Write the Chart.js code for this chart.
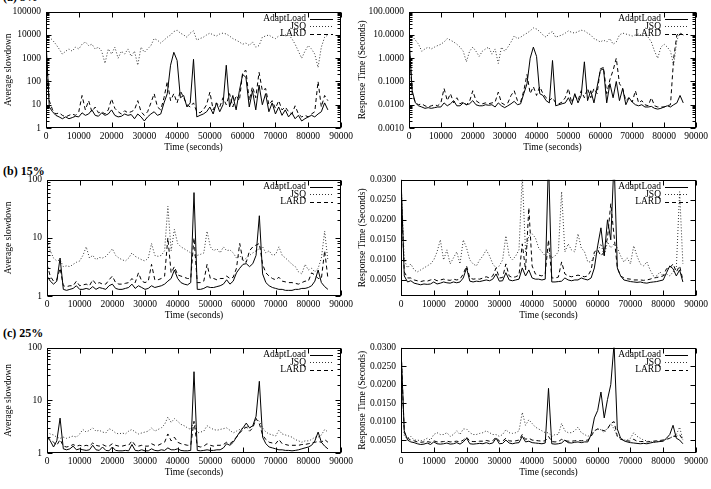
<!DOCTYPE html>
<html>
<head>
<meta charset="utf-8">
<script src="https://cdn.jsdelivr.net/npm/chart.js@4.4.0/dist/chart.umd.min.js"></script>
<style>
  body { margin: 0; background: #fff; width: 711px; height: 489px; position: relative; overflow: hidden; font-family: "Liberation Serif", serif; }
  canvas { position: absolute; }
  .row { position: absolute; left: 3px; font-weight: bold; font-size: 12px; line-height: 12px; color: #000; }
</style>
</head>
<body>
<div class="row" style="top:-9px">(a) 5%</div>
<div class="row" style="top:165px">(b) 15%</div>
<div class="row" style="top:327px">(c) 25%</div>
<canvas id="c1" width="360" height="167" style="left:0px;top:1px"></canvas>
<canvas id="c2" width="356" height="167" style="left:355px;top:1px"></canvas>
<canvas id="c3" width="360" height="167" style="left:0px;top:169px"></canvas>
<canvas id="c4" width="356" height="167" style="left:355px;top:169px"></canvas>
<canvas id="c5" width="360" height="156" style="left:0px;top:337px"></canvas>
<canvas id="c6" width="356" height="156" style="left:355px;top:337px"></canvas>
<script>
// time axis (seconds), one sample per 1000 s
const times = [0, 1000, 2000, 3000, 4000, 5000, 6000, 7000, 8000, 9000,
  10000, 11000, 12000, 13000, 14000, 15000, 16000, 17000, 18000, 19000,
  20000, 21000, 22000, 23000, 24000, 25000, 26000, 27000, 28000, 29000,
  30000, 31000, 32000, 33000, 34000, 35000, 36000, 37000, 38000, 39000,
  40000, 41000, 42000, 43000, 44000, 45000, 46000, 47000, 48000, 49000,
  50000, 51000, 52000, 53000, 54000, 55000, 56000, 57000, 58000, 59000,
  60000, 61000, 62000, 63000, 64000, 65000, 66000, 67000, 68000, 69000,
  70000, 71000, 72000, 73000, 74000, 75000, 76000, 77000, 78000, 79000,
  80000, 81000, 82000, 83000, 84000, 85000, 86000]
const seriesNames = ['AdaptLoad', 'JSQ', 'LARD']

const xTicks = [0, 10000, 20000, 30000, 40000, 50000, 60000, 70000, 80000, 90000]
const slowTicksA = [1, 10, 100, 1000, 10000, 100000]
const respTicksA = [0.001, 0.01, 0.1, 1, 10, 100]
const slowTicks = [1, 10, 100]
const respTicks = [0.005, 0.01, 0.015, 0.02, 0.025, 0.03]

// (a) average slowdown
const adaptA1 = [6000, 8, 5, 3.5, 3, 2.5, 3, 2.5, 2.8, 3.2,
  3, 4.5, 3.5, 4, 6, 3.5, 3.2, 4.5, 3.5, 4,
  6, 3.5, 3, 3.2, 4, 3.5, 3.8, 2.5, 4, 3,
  2, 3, 4, 5, 3.5, 4, 12, 30, 500, 1800,
  800, 20, 25, 8, 12, 900, 3, 3.5, 4, 5,
  8, 4, 12, 5, 10, 500, 8, 25, 6, 40,
  200, 150, 8, 40, 6, 70, 10, 30, 5, 12,
  4, 8, 3.5, 6, 3, 4.5, 2.5, 3.5, 2, 2.5,
  3, 3.5, 3, 4, 5, 12, 6]
const jsqA1 = [9000, 8000, 6000, 4000, 2500, 1500, 2000, 2500, 2000, 3000,
  2500, 4000, 5000, 3500, 4000, 2500, 3000, 2000, 600, 2500,
  1500, 3000, 1000, 2000, 1500, 2500, 1200, 2000, 500, 3000,
  1800, 2500, 3500, 7000, 6000, 4500, 6000, 8000, 10000, 14000,
  16000, 12000, 10000, 8000, 12000, 15000, 6000, 7000, 8000, 10000,
  12000, 10000, 9000, 11000, 12000, 11000, 9000, 7000, 6000, 5000,
  4000, 4500, 3500, 5000, 3000, 3500, 8000, 9000, 10000, 8000,
  7000, 9000, 10000, 9000, 10000, 7000, 4000, 2000, 1000, 2000,
  3500, 2500, 1500, 400, 3000, 8000, 10000]
const lardA1 = [2000, 15, 6, 4, 4.5, 3.5, 3, 3.5, 4, 3.5,
  5, 25, 6, 15, 5, 8, 4.5, 5, 4, 6,
  18, 7, 5, 4, 5.5, 4.5, 5, 6, 15, 5,
  3.5, 5, 12, 30, 8, 6, 20, 100, 15, 30,
  12, 40, 20, 10, 8, 12, 5, 4.5, 6, 10,
  35, 6, 12, 8, 20, 10, 30, 8, 25, 15,
  250, 300, 15, 60, 20, 250, 40, 50, 10, 15,
  7, 15, 6, 8, 5, 4, 9, 4, 3, 3.5,
  3, 4, 5, 100, 8, 25, 15]

// (a) response time
const adaptA2 = [8, 0.04, 0.012, 0.009, 0.008, 0.007, 0.0075, 0.007, 0.0075, 0.008,
  0.008, 0.012, 0.009, 0.011, 0.015, 0.009, 0.009, 0.012, 0.01, 0.011,
  0.015, 0.01, 0.009, 0.009, 0.01, 0.0095, 0.01, 0.008, 0.012, 0.009,
  0.0075, 0.009, 0.011, 0.014, 0.01, 0.011, 0.03, 0.08, 1.0, 3.0,
  1.2, 0.03, 0.025, 0.015, 0.012, 0.8, 0.009, 0.01, 0.011, 0.012,
  0.02, 0.01, 0.03, 0.012, 0.025, 0.7, 0.015, 0.04, 0.012, 0.06,
  0.3, 0.35, 0.012, 0.08, 0.02, 0.1, 0.015, 0.05, 0.01, 0.02,
  0.013, 0.01, 0.009, 0.01, 0.008, 0.008, 0.0085, 0.007, 0.0065, 0.007,
  0.008, 0.009, 0.008, 0.01, 0.012, 0.025, 0.012]
const jsqA2 = [10, 9, 6, 4, 2, 2.5, 3, 2.5, 3, 3.5,
  4, 5, 7, 6, 5, 4, 3, 2, 0.7, 2,
  3, 2, 1.2, 2, 2.5, 3, 1.5, 2.5, 0.6, 3,
  2, 3, 5, 9, 7, 8, 10, 12, 15, 20,
  18, 14, 10, 8, 12, 14, 8, 9, 10, 12,
  15, 13, 12, 14, 16, 15, 12, 10, 7, 6,
  5, 6, 5, 7, 4, 5, 10, 12, 11, 10,
  9, 10, 11, 9, 10, 8, 5, 2, 1, 3,
  4, 3, 2, 0.5, 6, 12, 10]
const lardA2 = [5, 0.03, 0.012, 0.01, 0.011, 0.009, 0.008, 0.009, 0.01, 0.009,
  0.012, 0.05, 0.015, 0.03, 0.012, 0.02, 0.011, 0.013, 0.01, 0.014,
  0.04, 0.015, 0.012, 0.011, 0.012, 0.011, 0.012, 0.013, 0.035, 0.012,
  0.01, 0.012, 0.025, 0.04, 0.015, 0.013, 0.04, 0.2, 0.03, 0.06,
  0.025, 0.06, 0.03, 0.02, 0.015, 0.02, 0.012, 0.011, 0.013, 0.02,
  0.05, 0.012, 0.025, 0.015, 0.04, 0.02, 0.05, 0.02, 0.05, 0.03,
  0.35, 0.4, 0.03, 0.12, 0.3, 1.0, 0.08, 0.05, 0.015, 0.02,
  0.013, 0.04, 0.012, 0.015, 0.01, 0.009, 0.02, 0.009, 0.008, 0.008,
  0.008, 0.009, 0.01, 1.0, 10, 12, 10]

// (b) 15% average slowdown
const adaptB1 = [2.2, 1.8, 1.6, 1.8, 4.5, 1.3, 1.25, 1.3, 1.35, 1.5,
  1.3, 1.3, 1.35, 1.3, 1.45, 1.3, 1.4, 1.35, 1.3, 1.5,
  1.6, 1.35, 1.3, 1.3, 1.35, 1.4, 1.6, 1.35, 1.5, 1.4,
  1.3, 1.35, 1.5, 1.4, 1.45, 1.5, 1.6, 1.8, 2.0, 2.8,
  2.0, 1.7, 1.6, 1.55, 1.7, 60, 1.3, 1.3, 1.35, 1.45,
  1.4, 1.4, 1.45, 1.5, 1.6, 1.9, 1.6, 1.8, 2.5, 3.0,
  3.5, 3.6, 3.2, 3.6, 5.0, 24, 2.4, 1.7, 1.5, 1.4,
  1.35, 1.3, 1.3, 1.25, 1.25, 1.25, 1.3, 1.3, 1.35, 1.35,
  1.4, 1.5, 1.8, 2.8, 1.7, 1.45, 1.3]
const jsqB1 = [10, 6, 4.5, 4, 4.2, 3.2, 3.3, 3.2, 3.5, 3.8,
  4, 5, 7, 4.5, 5, 4.2, 4.6, 4.5, 4.8, 5.5,
  6.5, 5, 4.5, 4.2, 4, 4.5, 5.5, 4.8, 4.5, 4.2,
  4, 4.5, 8, 5, 4.8, 5, 6, 35, 6, 14,
  8, 7, 6.5, 6, 5.5, 5, 5, 5.2, 5.5, 13,
  7, 6, 6.5, 5.5, 7, 6, 6.2, 5.5, 4.5, 5,
  4, 4.5, 5, 5.5, 6, 6.5, 7, 5.5, 6, 5,
  5.2, 7, 5, 4.5, 4, 3.5, 3.2, 2.6, 2.4, 3.5,
  2.8, 3, 2.6, 3, 4.5, 13, 4]
const lardB1 = [3.5, 2.2, 1.8, 1.9, 3, 1.5, 1.45, 1.5, 1.5, 1.8,
  1.5, 1.55, 1.6, 1.5, 1.9, 1.6, 1.7, 1.6, 1.6, 1.9,
  2.2, 1.7, 1.6, 1.6, 1.65, 1.7, 2.0, 1.7, 2.5, 1.8,
  1.7, 1.8, 3.5, 1.9, 1.9, 2.0, 2.2, 10, 2.5, 3.2,
  2.3, 2.2, 2.1, 2.0, 2.0, 10, 1.7, 1.7, 1.8, 3.5,
  2.0, 2.0, 1.9, 2.0, 2.0, 2.2, 2.0, 2.1, 3.0, 8,
  4.0, 3.8, 6, 7, 7.5, 8, 3.5, 2.5, 2.2, 2.0,
  1.9, 2.1, 1.8, 1.75, 1.7, 1.7, 1.65, 1.6, 1.7, 1.8,
  1.8, 2.5, 2.3, 2.0, 2.0, 6, 2.0]

// (b) 15% response time
const adaptB2 = [0.031, 0.006, 0.0045, 0.0048, 0.0042, 0.004, 0.0038, 0.004, 0.0039, 0.004,
  0.0045, 0.004, 0.0042, 0.0045, 0.0043, 0.0042, 0.0045, 0.0043, 0.0045, 0.0055,
  0.008, 0.0047, 0.0045, 0.0047, 0.0046, 0.0048, 0.005, 0.0048, 0.0052, 0.0065,
  0.0047, 0.0048, 0.0068, 0.005, 0.0048, 0.005, 0.0052, 0.008, 0.006, 0.0075,
  0.0055, 0.0052, 0.0052, 0.005, 0.0052, 0.035, 0.0045, 0.0045, 0.0046, 0.0047,
  0.0055, 0.005, 0.0048, 0.005, 0.005, 0.0055, 0.0052, 0.005, 0.0055, 0.008,
  0.0135, 0.018, 0.011, 0.02, 0.015, 0.035, 0.008, 0.006, 0.005, 0.0048,
  0.0046, 0.0045, 0.0044, 0.0045, 0.0043, 0.0042, 0.0044, 0.0045, 0.0046, 0.0048,
  0.005, 0.0068, 0.0085, 0.0078, 0.006, 0.0075, 0.0045]
const jsqB2 = [0.03, 0.01, 0.008, 0.009, 0.0075, 0.007, 0.0075, 0.008, 0.0085, 0.009,
  0.01, 0.012, 0.015, 0.01, 0.0125, 0.009, 0.0105, 0.012, 0.009, 0.015,
  0.013, 0.01, 0.009, 0.0085, 0.01, 0.011, 0.0125, 0.011, 0.009, 0.008,
  0.0085, 0.01, 0.016, 0.011, 0.01, 0.011, 0.0125, 0.031, 0.012, 0.016,
  0.0165, 0.0155, 0.013, 0.012, 0.011, 0.012, 0.0105, 0.011, 0.012, 0.027,
  0.012, 0.014, 0.0125, 0.012, 0.0165, 0.013, 0.012, 0.0095, 0.0095, 0.011,
  0.012, 0.014, 0.011, 0.0145, 0.013, 0.014, 0.013, 0.011, 0.0095, 0.0105,
  0.009, 0.0135, 0.011, 0.009, 0.0085, 0.0095, 0.0075, 0.006, 0.006, 0.007,
  0.006, 0.0065, 0.006, 0.007, 0.008, 0.027, 0.009]
const lardB2 = [0.028, 0.007, 0.0055, 0.0055, 0.005, 0.0048, 0.0046, 0.0048, 0.0047, 0.005,
  0.0052, 0.0048, 0.005, 0.0052, 0.005, 0.0049, 0.0052, 0.005, 0.0052, 0.0065,
  0.0085, 0.0055, 0.0052, 0.0053, 0.0052, 0.0055, 0.0058, 0.0055, 0.006, 0.008,
  0.0055, 0.0056, 0.009, 0.006, 0.0056, 0.0058, 0.0062, 0.014, 0.0075, 0.023,
  0.0085, 0.0065, 0.0062, 0.006, 0.0065, 0.015, 0.0055, 0.0055, 0.0057, 0.0095,
  0.0065, 0.006, 0.0058, 0.006, 0.0062, 0.006, 0.0058, 0.006, 0.0075, 0.012,
  0.0125, 0.011, 0.012, 0.0155, 0.024, 0.016, 0.008, 0.006, 0.0055, 0.0053,
  0.0052, 0.005, 0.005, 0.005, 0.0049, 0.005, 0.0052, 0.0055, 0.0056, 0.0058,
  0.006, 0.0078, 0.008, 0.009, 0.007, 0.0085, 0.005]

// (c) 25% average slowdown
const adaptC1 = [2.0, 1.7, 1.3, 1.7, 4.6, 1.2, 1.15, 1.2, 1.35, 1.15,
  1.2, 1.15, 1.12, 1.15, 1.4, 1.15, 1.12, 1.3, 1.12, 1.1,
  1.3, 1.12, 1.1, 1.1, 1.12, 1.1, 1.45, 1.12, 1.1, 1.15,
  1.1, 1.1, 1.2, 1.12, 1.1, 1.15, 1.12, 1.25, 1.15, 1.15,
  1.2, 1.12, 1.1, 1.1, 1.12, 35, 1.12, 1.1, 1.12, 1.15,
  1.12, 1.12, 1.15, 1.15, 1.25, 1.5, 1.4, 1.6, 2.0, 2.5,
  3.0, 3.7, 3.0, 3.3, 5.0, 23, 2.0, 1.5, 1.3, 1.25,
  1.2, 1.15, 1.15, 1.12, 1.12, 1.1, 1.12, 1.15, 1.2, 1.25,
  1.3, 1.4, 1.7, 2.5, 1.6, 1.35, 1.2]
const jsqC1 = [2.5, 2.3, 2.2, 2.0, 1.9, 2.0, 1.9, 2.0, 2.1, 2.0,
  2.3, 2.8, 2.5, 2.7, 3.0, 2.6, 2.7, 2.5, 2.4, 2.9,
  2.7, 2.4, 2.3, 2.4, 2.3, 2.6, 2.8, 2.5, 2.3, 2.4,
  2.5, 2.6, 3.0, 2.6, 2.8, 3.0, 3.5, 4.8, 3.8, 4.5,
  4.0, 3.5, 3.3, 3.0, 2.8, 4.0, 2.4, 2.5, 2.6, 3.3,
  3.0, 2.8, 2.7, 2.8, 2.9, 3.0, 2.7, 2.4, 2.6, 2.8,
  3.0, 3.2, 3.0, 3.2, 4.5, 4.0, 3.0, 2.5, 2.3, 2.2,
  2.1, 2.7, 2.3, 2.2, 2.1, 2.0, 1.8, 1.7, 1.6, 1.7,
  1.7, 1.8, 2.0, 2.0, 2.2, 2.8, 2.5]
const lardC1 = [2.0, 1.8, 1.6, 1.4, 1.8, 1.35, 1.3, 1.35, 1.45, 1.35,
  1.4, 1.35, 1.4, 1.35, 1.55, 1.4, 1.35, 1.45, 1.35, 1.35,
  1.5, 1.4, 1.35, 1.35, 1.4, 1.4, 1.7, 1.4, 1.35, 1.4,
  1.35, 1.35, 1.5, 1.4, 1.4, 1.5, 1.6, 2.3, 1.7, 2.0,
  1.6, 1.5, 1.45, 1.4, 1.4, 4.0, 1.35, 1.3, 1.35, 1.5,
  1.4, 1.35, 1.4, 1.4, 1.45, 1.6, 1.5, 1.7, 2.0, 2.4,
  2.8, 3.1, 2.6, 3.0, 4.5, 3.6, 2.2, 1.8, 1.6, 1.55,
  1.5, 1.8, 1.5, 1.45, 1.4, 1.4, 1.4, 1.4, 1.45, 1.45,
  1.5, 1.55, 1.6, 1.65, 1.6, 1.8, 1.6]

// (c) 25% response time
const adaptC2 = [0.03, 0.0075, 0.005, 0.0045, 0.0043, 0.004, 0.0038, 0.0039, 0.0042, 0.0038,
  0.0045, 0.004, 0.0039, 0.004, 0.0042, 0.0039, 0.004, 0.0043, 0.0039, 0.0045,
  0.0055, 0.004, 0.0039, 0.004, 0.0041, 0.004, 0.0043, 0.004, 0.0042, 0.0055,
  0.004, 0.0041, 0.005, 0.0042, 0.004, 0.0042, 0.0043, 0.006, 0.0045, 0.0047,
  0.0043, 0.0042, 0.0041, 0.004, 0.0042, 0.019, 0.004, 0.0039, 0.004, 0.0042,
  0.005, 0.0043, 0.0042, 0.0044, 0.0045, 0.0043, 0.0045, 0.0045, 0.0065, 0.011,
  0.013, 0.018, 0.011, 0.016, 0.02, 0.031, 0.008, 0.0055, 0.0048, 0.0045,
  0.0043, 0.0042, 0.0041, 0.004, 0.0041, 0.004, 0.0042, 0.0044, 0.0045, 0.0046,
  0.0047, 0.0055, 0.0065, 0.009, 0.0055, 0.005, 0.004]
const jsqC2 = [0.03, 0.006, 0.0055, 0.006, 0.005, 0.005, 0.0048, 0.005, 0.0055, 0.005,
  0.0065, 0.007, 0.0065, 0.0065, 0.007, 0.006, 0.0065, 0.0075, 0.0065, 0.008,
  0.008, 0.007, 0.0065, 0.0065, 0.0068, 0.007, 0.0075, 0.007, 0.0065, 0.0065,
  0.006, 0.0065, 0.0078, 0.007, 0.0068, 0.007, 0.0075, 0.0125, 0.009, 0.0105,
  0.0095, 0.0085, 0.008, 0.0075, 0.007, 0.007, 0.006, 0.0065, 0.0065, 0.0095,
  0.0075, 0.007, 0.007, 0.0075, 0.0085, 0.007, 0.0065, 0.006, 0.0065, 0.0075,
  0.008, 0.0078, 0.007, 0.0082, 0.0095, 0.008, 0.006, 0.0055, 0.005, 0.005,
  0.0055, 0.007, 0.006, 0.0055, 0.005, 0.0048, 0.0045, 0.0045, 0.0045, 0.0048,
  0.005, 0.0052, 0.0055, 0.006, 0.0065, 0.0085, 0.005]
const lardC2 = [0.03, 0.007, 0.0055, 0.005, 0.0048, 0.0045, 0.0044, 0.0045, 0.0046, 0.0044,
  0.0048, 0.0045, 0.0045, 0.0046, 0.0047, 0.0045, 0.0046, 0.0047, 0.0045, 0.005,
  0.0058, 0.0047, 0.0046, 0.0046, 0.0047, 0.0047, 0.0049, 0.0047, 0.0048, 0.0058,
  0.0047, 0.0047, 0.0055, 0.0048, 0.0047, 0.0048, 0.005, 0.0065, 0.0052, 0.0055,
  0.005, 0.0049, 0.0048, 0.0047, 0.0048, 0.006, 0.0046, 0.0045, 0.0046, 0.0052,
  0.0048, 0.0047, 0.0047, 0.0048, 0.0049, 0.0048, 0.0049, 0.005, 0.006, 0.0075,
  0.008, 0.0078, 0.0075, 0.008, 0.0095, 0.01, 0.006, 0.0052, 0.005, 0.0048,
  0.0047, 0.0052, 0.0047, 0.0046, 0.0046, 0.0045, 0.0046, 0.0047, 0.0048, 0.0049,
  0.005, 0.0052, 0.0055, 0.006, 0.006, 0.0065, 0.005]

const FONT = { family: 'Liberation Serif', size: 9.5 }

// gnuplot-like box with inward ticks on all four sides
const frame = {
  id: 'frame',
  afterDatasetsDraw(chart) {
    const { ctx, chartArea: a, scales: { x, y } } = chart
    const L = Math.round(a.left) + 0.5, R = Math.round(a.right) - 0.5
    const T = Math.round(a.top) + 0.5, B = Math.round(a.bottom) - 0.5
    ctx.save()
    ctx.strokeStyle = '#000'
    ctx.lineWidth = 1
    ctx.setLineDash([])
    ctx.strokeRect(L, T, R - L, B - T)
    ctx.beginPath()
    x.ticks.forEach(t => {
      const p = Math.round(x.getPixelForValue(t.value)) + 0.5
      ctx.moveTo(p, B); ctx.lineTo(p, B - 5)
      ctx.moveTo(p, T); ctx.lineTo(p, T + 5)
    })
    const mark = (v, len) => {
      const p = Math.round(y.getPixelForValue(v)) + 0.5
      ctx.moveTo(L, p); ctx.lineTo(L + len, p)
      ctx.moveTo(R, p); ctx.lineTo(R - len, p)
    }
    y.ticks.forEach(t => mark(t.value, 5))
    if (y.type === 'logarithmic') {
      for (let d = y.min; d < y.max * 0.999; d *= 10) {
        for (let k = 2; k < 10; k++) mark(d * k, 3)
      }
    }
    ctx.stroke()
    ctx.restore()
  }
}

// key in the top right corner: label then line sample
const key = {
  id: 'key',
  afterDraw(chart) {
    const { ctx, chartArea: a } = chart
    ctx.save()
    ctx.font = FONT.size + 'px "' + FONT.family + '"'
    ctx.fillStyle = '#000'
    ctx.textAlign = 'right'
    ctx.textBaseline = 'middle'
    chart.data.datasets.forEach((d, i) => {
      const yy = a.top + 7 + i * 7.5
      ctx.fillText(d.label, a.right - 35, yy)
      ctx.setLineDash(d.borderDash)
      ctx.strokeStyle = d.borderColor
      ctx.lineWidth = 1
      ctx.beginPath()
      ctx.moveTo(a.right - 31, Math.round(yy) + 0.5)
      ctx.lineTo(a.right - 8, Math.round(yy) + 0.5)
      ctx.stroke()
    })
    ctx.restore()
  }
}

function pts(vals) {
  return times.map((t, i) => ({ x: t, y: vals[i] }))
}

function panel(id, p) {
  const styles = [
    { borderColor: '#000', borderDash: [] },
    { borderColor: '#333', borderDash: [1, 2] },
    { borderColor: '#000', borderDash: [4, 3] }
  ]
  const datasets = p.series.map((vals, i) => ({
    label: seriesNames[i],
    data: pts(vals),
    borderColor: styles[i].borderColor,
    borderDash: styles[i].borderDash,
    borderWidth: 1,
    pointRadius: 0,
    tension: 0
  }))
  return new Chart(document.getElementById(id), {
    type: 'line',
    data: { datasets },
    options: {
      responsive: false,
      animation: false,
      devicePixelRatio: 1,
      layout: { padding: { top: 10, right: p.padR, bottom: 0, left: 0 } },
      plugins: { legend: { display: false }, tooltip: { enabled: false } },
      scales: {
        x: {
          type: 'linear', min: 0, max: 90000,
          grid: { display: false, drawTicks: false },
          border: { display: false },
          afterBuildTicks: s => { s.ticks = xTicks.map(v => ({ value: v })) },
          afterFit: s => { s.height = 40 },
          ticks: { padding: 3, maxRotation: 0, autoSkip: false, color: '#000', font: FONT, callback: v => String(v) },
          title: { display: true, text: 'Time (seconds)', color: '#000', font: FONT, padding: { top: 0, bottom: 15.3 } }
        },
        y: {
          type: p.log ? 'logarithmic' : 'linear', min: p.min, max: p.max,
          grid: { display: false, drawTicks: false },
          border: { display: false },
          afterBuildTicks: s => { s.ticks = p.ticks.map(v => ({ value: v })) },
          afterFit: s => { s.width = p.yW },
          ticks: { padding: 5, autoSkip: false, color: '#000', font: FONT, callback: p.fmt },
          title: { display: true, text: p.title, color: '#000', font: FONT, padding: { top: p.titlePad, bottom: 0 } }
        }
      }
    },
    plugins: [frame, key]
  })
}

const plain = v => String(v)
const four = v => Number(v).toFixed(4)
const slowTitle = 'Average slowdown'
const respTitle = 'Response Time (Seconds)'

panel('c1', { series: [adaptA1, jsqA1, lardA1], log: true, min: 1, max: 100000, ticks: slowTicksA, fmt: plain, title: slowTitle, yW: 46, padR: 19, titlePad: 2.3 })
panel('c2', { series: [adaptA2, jsqA2, lardA2], log: true, min: 0.001, max: 100, ticks: respTicksA, fmt: four, title: respTitle, yW: 54, padR: 15, titlePad: 1.3 })
panel('c3', { series: [adaptB1, jsqB1, lardB1], log: true, min: 1, max: 100, ticks: slowTicks, fmt: plain, title: slowTitle, yW: 47, padR: 19, titlePad: 2.3 })
panel('c4', { series: [adaptB2, jsqB2, lardB2], log: false, min: 0.001, max: 0.03, ticks: respTicks, fmt: four, title: respTitle, yW: 46, padR: 15, titlePad: 1.3 })
panel('c5', { series: [adaptC1, jsqC1, lardC1], log: true, min: 1, max: 100, ticks: slowTicks, fmt: plain, title: slowTitle, yW: 47, padR: 19, titlePad: 2.3 })
panel('c6', { series: [adaptC2, jsqC2, lardC2], log: false, min: 0.0015, max: 0.03, ticks: respTicks, fmt: four, title: respTitle, yW: 46, padR: 15, titlePad: 1.3 })
</script>
</body>
</html>
